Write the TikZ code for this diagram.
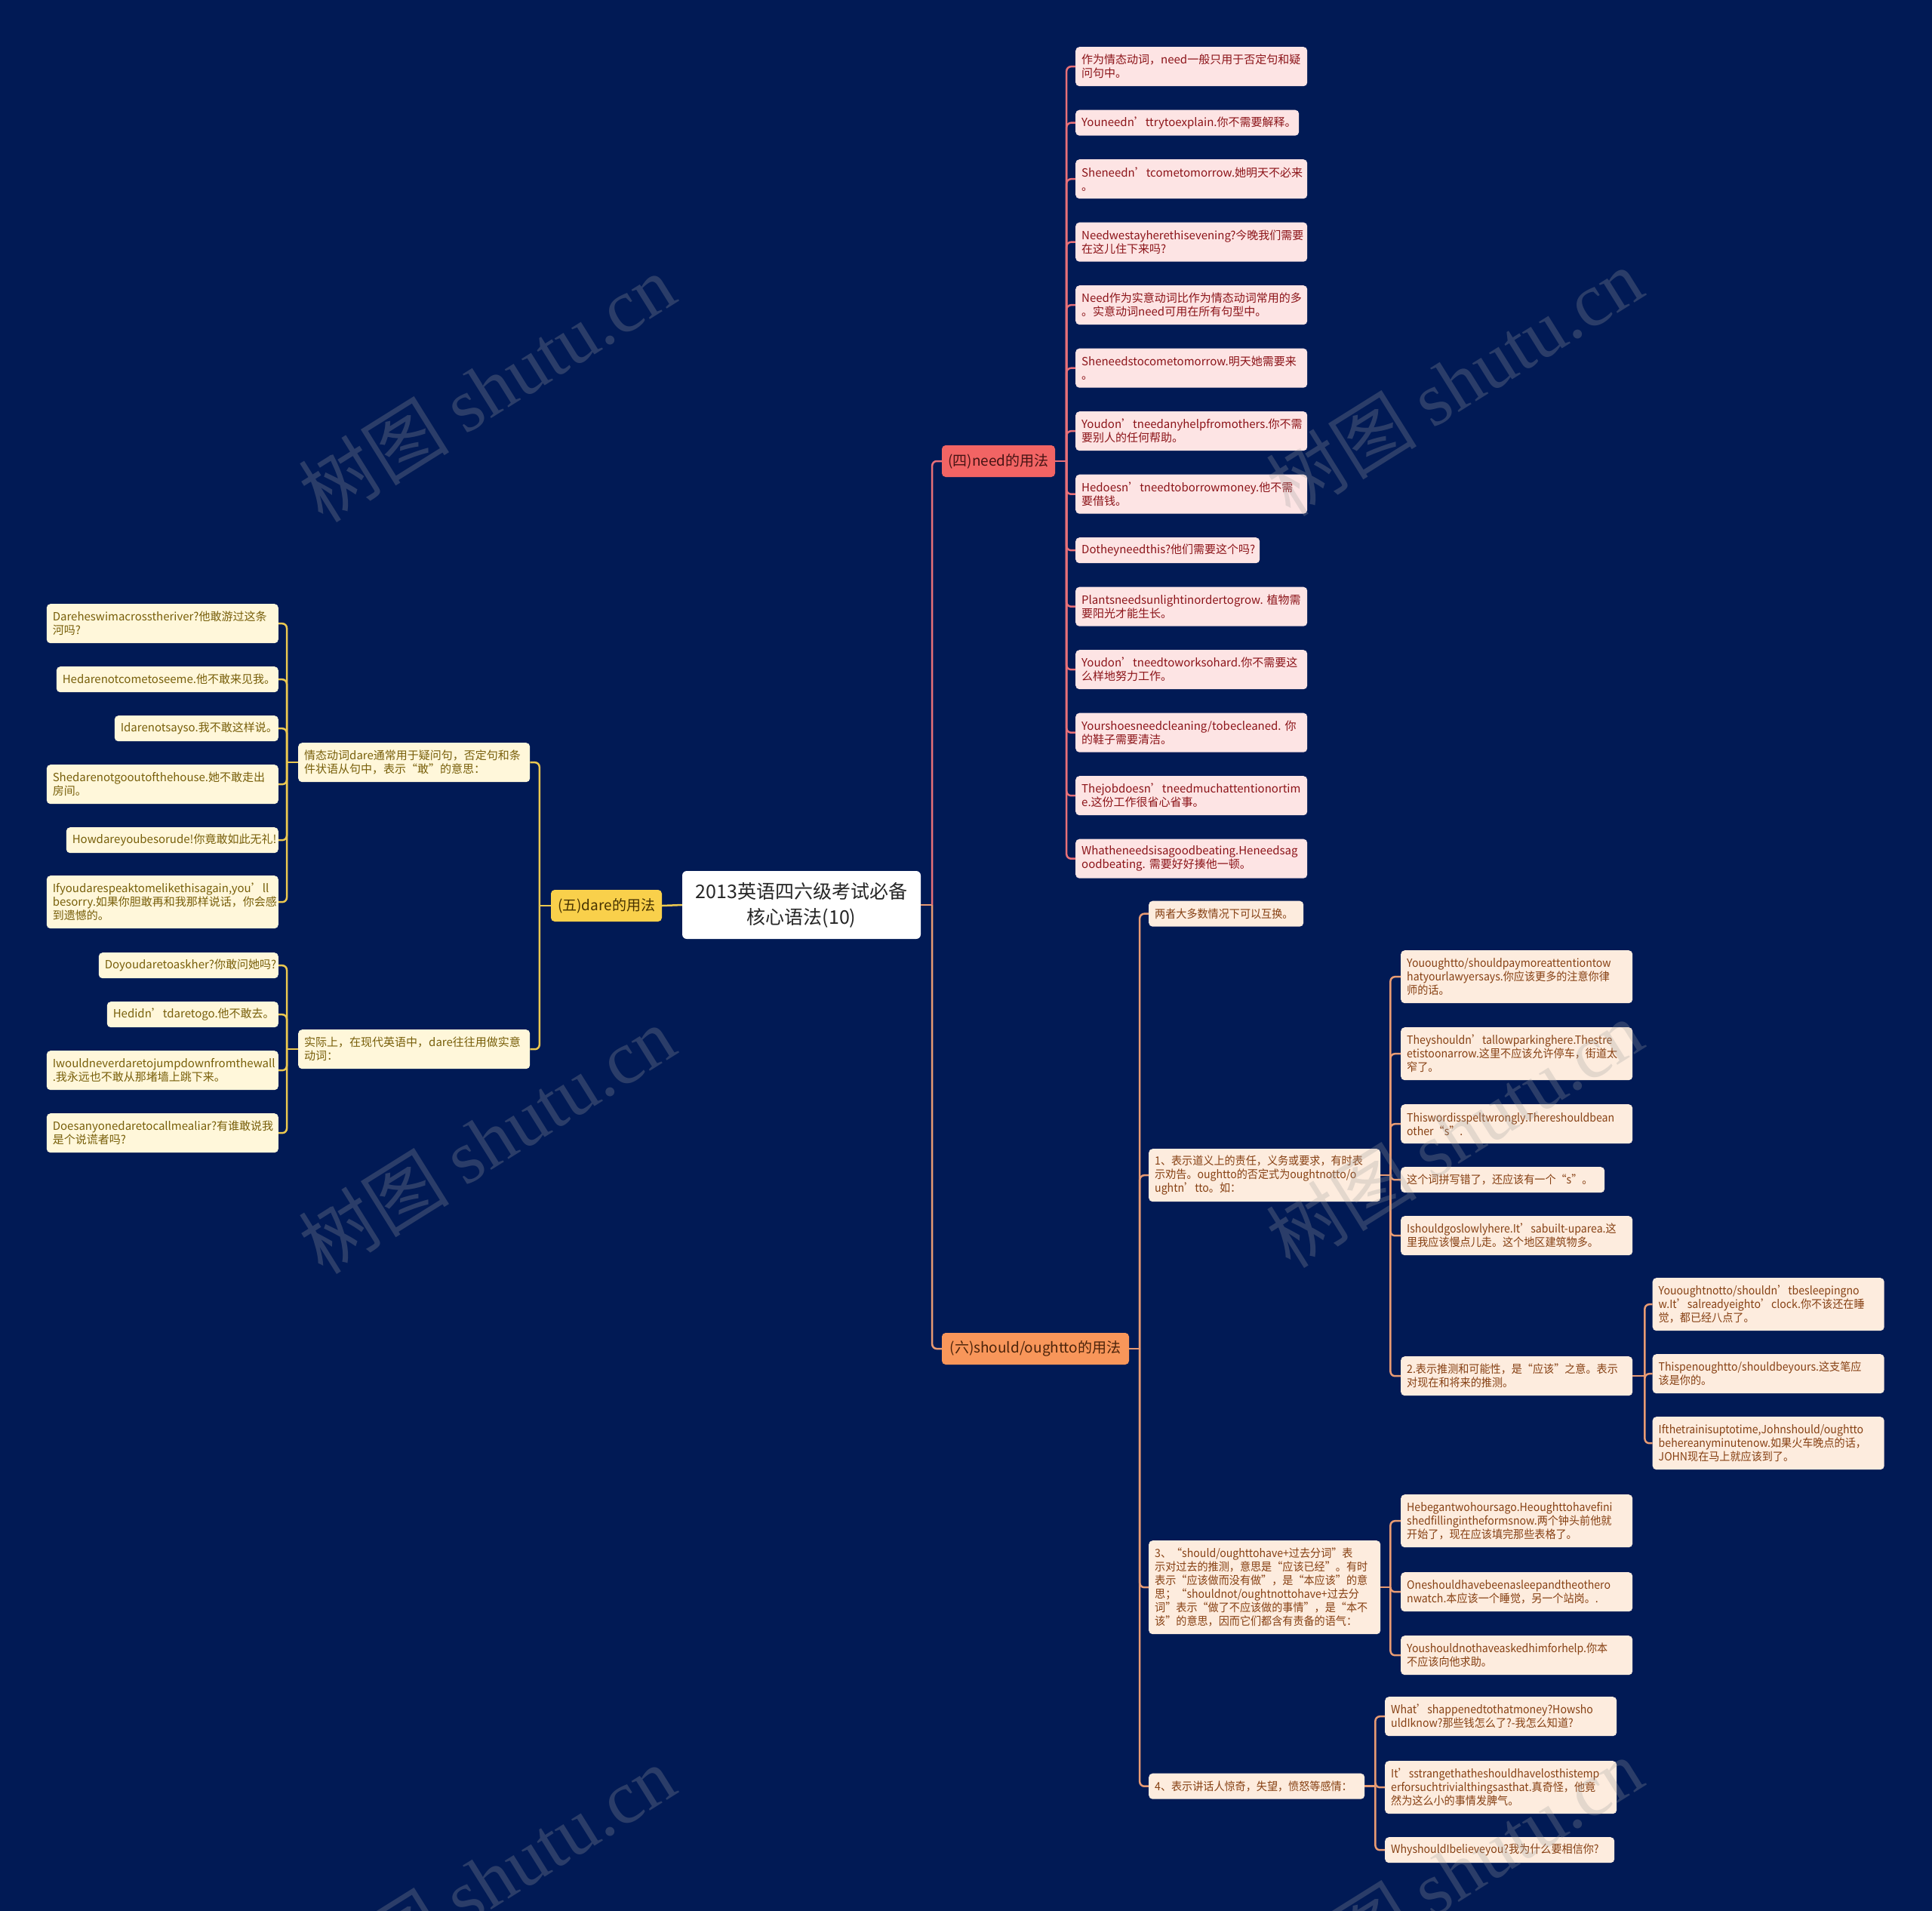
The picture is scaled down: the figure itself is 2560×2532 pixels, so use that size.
\documentclass[tikz,border=0pt]{standalone}
\usepackage{fontspec}
\setmainfont{Noto Sans CJK SC}
\newfontfamily\narrowcjk[FakeStretch=0.94]{Noto Sans CJK SC}
\newfontfamily\wmserif{Liberation Serif}
\hyphenpenalty=10000
\exhyphenpenalty=10000
\definecolor{bgNavy}{RGB}{1,26,85}
\definecolor{needLine}{RGB}{232,112,120}
\definecolor{needRoot}{RGB}{242,100,100}
\definecolor{needFill}{RGB}{253,228,228}
\definecolor{needText}{RGB}{140,20,25}
\definecolor{needDark}{RGB}{70,20,20}
\definecolor{dareLine}{RGB}{235,200,80}
\definecolor{dareRoot}{RGB}{249,208,75}
\definecolor{dareFill}{RGB}{255,247,218}
\definecolor{dareText}{RGB}{120,95,10}
\definecolor{dareDark}{RGB}{70,50,0}
\definecolor{shouldLine}{RGB}{232,155,115}
\definecolor{shouldRoot}{RGB}{248,150,90}
\definecolor{shouldFill}{RGB}{253,236,222}
\definecolor{shouldText}{RGB}{135,65,20}
\definecolor{shouldDark}{RGB}{75,35,10}
\tikzset{
    conn/.style={line width=2.5pt, rounded corners=6pt},
    title/.style={fill=white, rounded corners=6pt, align=center, text=black!85,
        minimum width=316pt, minimum height=90pt, font=\fontsize{25}{34}\selectfont},
    branch/.style={rounded corners=5pt, minimum height=42pt, inner sep=0pt,
        font=\fontsize{19}{23}\selectfont},
    leaf/.style={rounded corners=5pt, inner xsep=8pt, inner ysep=0pt, align=left,
        text width=291pt, font=\fontsize{15}{18}\selectfont},
    oneline/.style={minimum height=34pt},
    twoline/.style={minimum height=52pt},
    threeline/.style={minimum height=70pt},
    needleaf/.style={leaf, fill=needFill, text=needText, anchor=north west},
    dareleaf/.style={leaf, fill=dareFill, text=dareText, anchor=north east},
    daresub/.style={leaf, fill=dareFill, text=dareText, anchor=north west},
    shouldleaf/.style={leaf, fill=shouldFill, text=shouldText, anchor=north west,
        font=\narrowcjk\fontsize{15}{18}\selectfont},
    wmark/.style={rotate=32, text=gray!75, text opacity=0.27,
        font=\fontsize{100}{100}\selectfont},
}
\begin{document}
\begin{tikzpicture}[x=1pt,y=-1pt]
    \fill[bgNavy] (0,0) rectangle (2560,2532);
    \useasboundingbox (0,0) rectangle (2560,2532);

    % centre and branches
    \node[title] (root) at (1062,1199) {2013英语四六级考试必备\\核心语法(10)};
    \node[branch, fill=needRoot, text=needDark, minimum width=150pt] (need) at (1323,611) {(四)need的用法};
    \node[branch, fill=dareRoot, text=dareDark, minimum width=147pt] (dare) at (803.5,1200) {(五)dare的用法};
    \node[branch, fill=shouldRoot, text=shouldDark, minimum width=248pt] (should) at (1372,1787) {(六)should/oughtto的用法};

    % need
    \node[needleaf, twoline] (n1) at (1425,62) {作为情态动词，need一般只用于否定句和疑\\问句中。};
    \node[needleaf, oneline, text width=280pt] (n2) at (1425,145.5) {Youneedn’ttrytoexplain.你不需要解释。};
    \node[needleaf, twoline] (n3) at (1425,211) {Sheneedn’tcometomorrow.她明天不必来\\。};
    \node[needleaf, twoline] (n4) at (1425,294.5) {Needwestayherethisevening?今晚我们需要\\在这儿住下来吗?};
    \node[needleaf, twoline] (n5) at (1425,378) {Need作为实意动词比作为情态动词常用的多\\。实意动词need可用在所有句型中。};
    \node[needleaf, twoline] (n6) at (1425,461.5) {Sheneedstocometomorrow.明天她需要来\\。};
    \node[needleaf, twoline] (n7) at (1425,545) {Youdon’tneedanyhelpfromothers.你不需\\要别人的任何帮助。};
    \node[needleaf, twoline] (n8) at (1425,628.5) {Hedoesn’tneedtoborrowmoney.他不需\\要借钱。};
    \node[needleaf, oneline, text width=228pt] (n9) at (1425,712) {Dotheyneedthis?他们需要这个吗?};
    \node[needleaf, twoline] (n10) at (1425,777.5) {Plantsneedsunlightinordertogrow.~植物需\\要阳光才能生长。};
    \node[needleaf, twoline] (n11) at (1425,861) {Youdon’tneedtoworksohard.你不需要这\\么样地努力工作。};
    \node[needleaf, twoline] (n12) at (1425,944.5) {Yourshoesneedcleaning/tobecleaned.~你\\的鞋子需要清洁。};
    \node[needleaf, twoline] (n13) at (1425,1028) {Thejobdoesn’tneedmuchattentionortim\\e.这份工作很省心省事。};
    \node[needleaf, twoline] (n14) at (1425,1111.5) {Whatheneedsisagoodbeating.Heneedsag\\oodbeating.~需要好好揍他一顿。};

    % dare
    \node[daresub, twoline] (d1) at (395,984) {情态动词dare通常用于疑问句，否定句和条\\件状语从句中，表示“敢”的意思：};
    \node[daresub, twoline] (d2) at (395,1364) {实际上，在现代英语中，dare往往用做实意\\动词：};
    \node[dareleaf, twoline] (d1a) at (369,800) {Dareheswimacrosstheriver?他敢游过这条\\河吗?};
    \node[dareleaf, oneline, text width=278pt] (d1b) at (369,883) {Hedarenotcometoseeme.他不敢来见我。};
    \node[dareleaf, oneline, text width=201pt] (d1c) at (369,948) {Idarenotsayso.我不敢这样说。};
    \node[dareleaf, twoline] (d1d) at (369,1013) {Shedarenotgooutofthehouse.她不敢走出\\房间。};
    \node[dareleaf, oneline, text width=265pt] (d1e) at (369,1096) {Howdareyoubesorude!你竟敢如此无礼!};
    \node[dareleaf, threeline] (d1f) at (369,1160) {Ifyoudarespeaktomelikethisagain,you’ll\\besorry.如果你胆敢再和我那样说话，你会感\\到遗憾的。};
    \node[dareleaf, oneline, text width=222pt] (d2a) at (369,1262) {Doyoudaretoaskher?你敢问她吗?};
    \node[dareleaf, oneline, text width=211pt] (d2b) at (369,1327) {Hedidn’tdaretogo.他不敢去。};
    \node[dareleaf, twoline] (d2c) at (369,1392) {Iwouldneverdaretojumpdownfromthewall\\.我永远也不敢从那堵墙上跳下来。};
    \node[dareleaf, twoline] (d2d) at (369,1475) {Doesanyonedaretocallmealiar?有谁敢说我\\是个说谎者吗?};

    % should / ought to
    \node[shouldleaf, oneline, text width=189pt] (s1) at (1522,1193.5) {两者大多数情况下可以互换。};
    \node[shouldleaf, threeline] (s2) at (1522,1522) {1、表示道义上的责任，义务或要求，有时表\\示劝告。oughtto的否定式为oughtnotto/o\\ughtn’tto。如：};
    \node[shouldleaf, minimum height=124pt] (s3) at (1522,2041) {3、“should/oughttohave+过去分词”表\\示对过去的推测，意思是“应该已经”。有时\\表示“应该做而没有做”，是“本应该”的意\\思；“shouldnot/oughtnottohave+过去分\\词”表示“做了不应该做的事情”，是“本不\\该”的意思，因而它们都含有责备的语气：};
    \node[shouldleaf, oneline, text width=270pt] (s4) at (1522,2349.5) {4、表示讲话人惊奇，失望，愤怒等感情：};

    \node[shouldleaf, threeline] (s2a) at (1856,1259) {Yououghtto/shouldpaymoreattentiontow\\hatyourlawyersays.你应该更多的注意你律\\师的话。};
    \node[shouldleaf, threeline] (s2b) at (1856,1361) {Theyshouldn’tallowparkinghere.Thestre\\etistoonarrow.这里不应该允许停车，街道太\\窄了。};
    \node[shouldleaf, twoline] (s2c) at (1856,1463) {Thiswordisspeltwrongly.Thereshouldbean\\other“s”.};
    \node[shouldleaf, oneline, text width=254pt] (s2d) at (1856,1546) {这个词拼写错了，还应该有一个“s”。};
    \node[shouldleaf, twoline] (s2e) at (1856,1611) {Ishouldgoslowlyhere.It’sabuilt-uparea.这\\里我应该慢点儿走。这个地区建筑物多。};
    \node[shouldleaf, twoline] (s2f) at (1856,1797) {2.表示推测和可能性，是“应该”之意。表示\\对现在和将来的推测。};

    \node[shouldleaf, threeline] (s2f1) at (2189.5,1693) {Yououghtnotto/shouldn’tbesleepingno\\w.It’salreadyeighto’clock.你不该还在睡\\觉，都已经八点了。};
    \node[shouldleaf, twoline] (s2f2) at (2189.5,1794) {Thispenoughtto/shouldbeyours.这支笔应\\该是你的。};
    \node[shouldleaf, threeline] (s2f3) at (2189.5,1877) {Ifthetrainisuptotime,Johnshould/oughtto\\behereanyminutenow.如果火车晚点的话，\\JOHN现在马上就应该到了。};

    \node[shouldleaf, threeline] (s3a) at (1856,1980) {Hebegantwohoursago.Heoughttohavefini\\shedfillingintheformsnow.两个钟头前他就\\开始了，现在应该填完那些表格了。};
    \node[shouldleaf, twoline] (s3b) at (1856,2083) {Oneshouldhavebeenasleepandtheothero\\nwatch.本应该一个睡觉，另一个站岗。.};
    \node[shouldleaf, twoline] (s3c) at (1856,2167) {Youshouldnothaveaskedhimforhelp.你本\\不应该向他求助。};

    \node[shouldleaf, twoline] (s4a) at (1835,2248) {What’shappenedtothatmoney?Howsho\\uldIknow?那些钱怎么了?-我怎么知道?};
    \node[shouldleaf, threeline] (s4b) at (1835,2333) {It’sstrangethatheshouldhavelosthistemp\\erforsuchtrivialthingsasthat.真奇怪，他竟\\然为这么小的事情发脾气。};
    \node[shouldleaf, oneline, text width=288pt] (s4c) at (1835,2434) {WhyshouldIbelieveyou?我为什么要相信你?};

    % connectors
    \draw[conn, shouldLine] (root.east) -- ++(15,0) coordinate (hubR);
    \draw[conn, needLine] (hubR) |- (need.west);
    \draw[conn, shouldLine] (hubR) |- (should.west);
    \draw[conn, dareLine] (root.west) -- (dare.east);

    \draw[conn, needLine] (need.east) -- ++(15,0) coordinate (hubN);
    \foreach \i in {1,...,14}
        \draw[conn, needLine] (hubN) |- (n\i.west);

    \draw[conn, dareLine] (dare.west) -- ++(-15,0) coordinate (hubD);
    \foreach \s in {d1,d2}
        \draw[conn, dareLine] (hubD) |- (\s.east);
    \draw[conn, dareLine] (d1.west) -- ++(-15,0) coordinate (hubDa);
    \foreach \s in {a,...,f}
        \draw[conn, dareLine] (hubDa) |- (d1\s.east);
    \draw[conn, dareLine] (d2.west) -- ++(-15,0) coordinate (hubDb);
    \foreach \s in {a,...,d}
        \draw[conn, dareLine] (hubDb) |- (d2\s.east);

    \draw[conn, shouldLine] (should.east) -- ++(14,0) coordinate (hubS);
    \foreach \i in {1,...,4}
        \draw[conn, shouldLine] (hubS) |- (s\i.west);
    \draw[conn, shouldLine] (s2.east) -- ++(13,0) coordinate (hubSb);
    \foreach \s in {a,...,f}
        \draw[conn, shouldLine] (hubSb) |- (s2\s.west);
    \draw[conn, shouldLine] (s2f.east) -- ++(16,0) coordinate (hubSf);
    \foreach \i in {1,2,3}
        \draw[conn, shouldLine] (hubSf) |- (s2f\i.west);
    \draw[conn, shouldLine] (s3.east) -- ++(13,0) coordinate (hubSc);
    \foreach \s in {a,b,c}
        \draw[conn, shouldLine] (hubSc) |- (s3\s.west);
    \draw[conn, shouldLine] (s4.east) -- ++(14,0) coordinate (hubSd);
    \foreach \s in {a,b,c}
        \draw[conn, shouldLine] (hubSd) |- (s4\s.west);

    % watermarks
    \foreach \wx/\wy in {645/514, 1927/506, 645/1510, 1927/1502, 645/2490, 1927/2480}
        \node[wmark] (wm-\wx-\wy) at (\wx,\wy) {树图 {\wmserif shutu.cn}};
\end{tikzpicture}
\end{document}
